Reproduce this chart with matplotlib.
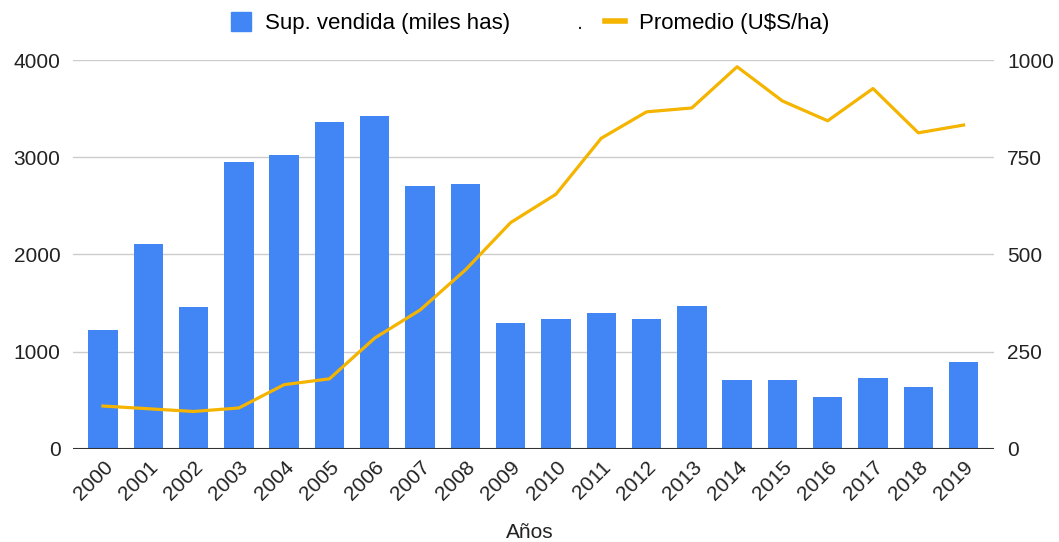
import matplotlib.pyplot as plt
from matplotlib.patches import Patch
from matplotlib.lines import Line2D

plt.rcParams['font.family'] = ['Liberation Sans', 'DejaVu Sans']

years = [str(y) for y in range(2000, 2020)]
sup_vendida = [1220, 2110, 1455, 2955, 3025, 3365, 3430, 2700, 2730, 1290,
               1340, 1400, 1340, 1470, 703, 703, 538, 733, 635, 898]
promedio = [110, 103, 96, 105, 165, 180, 285, 357, 460, 582,
            655, 799, 867, 877, 983, 895, 844, 927, 813, 833]

blue = '#4285F4'
yellow = '#F4B400'

fig = plt.figure(figsize=(10.59, 5.42), dpi=100)
ax = fig.add_axes([0.069, 0.172, 0.870, 0.717])
ax2 = ax.twinx()

x = list(range(len(years)))
ax.bar(x, sup_vendida, width=0.65, color=blue, zorder=2)
ax2.plot(x, promedio, color=yellow, linewidth=2.3, zorder=3)

ax.set_xlim(-0.66, 19.68)
ax.set_ylim(0, 4000)
ax2.set_ylim(0, 1000)
ax.set_yticks([0, 1000, 2000, 3000, 4000])
ax2.set_yticks([0, 250, 500, 750, 1000])
ax.set_xticks(x)
ax.set_xticklabels(years, rotation=45, ha='right', rotation_mode='anchor')

ax.grid(axis='y', color='#cccccc', linewidth=1, zorder=0)
ax.set_axisbelow(True)
for a in (ax, ax2):
    for s in ['top', 'left', 'right', 'bottom']:
        a.spines[s].set_visible(False)
    a.tick_params(length=0, labelsize=15, colors='#222222')
ax.axhline(0, color='#333333', linewidth=1.5, zorder=4)
ax.tick_params(axis='y', pad=9)
ax.tick_params(axis='x', pad=6)
ax2.tick_params(axis='y', pad=9)

fig.text(0.5, 0.017, 'Años', fontsize=15, color='#222222',
         ha='center', va='center')

handles = [Patch(color=blue), Line2D([0], [0], color=yellow, linewidth=4)]
labels = ['Sup. vendida (miles has)', 'Promedio (U$S/ha)']
fig.legend(handles, labels, loc='center', bbox_to_anchor=(0.5005, 0.957),
           ncol=2, frameon=False, fontsize=16, handlelength=0.9,
           handleheight=0.9, columnspacing=4.3, handletextpad=0.6)
fig.text(0.545, 0.957, '.', fontsize=16, color='#222222', va='center')

fig.savefig('out.png', dpi=100)
